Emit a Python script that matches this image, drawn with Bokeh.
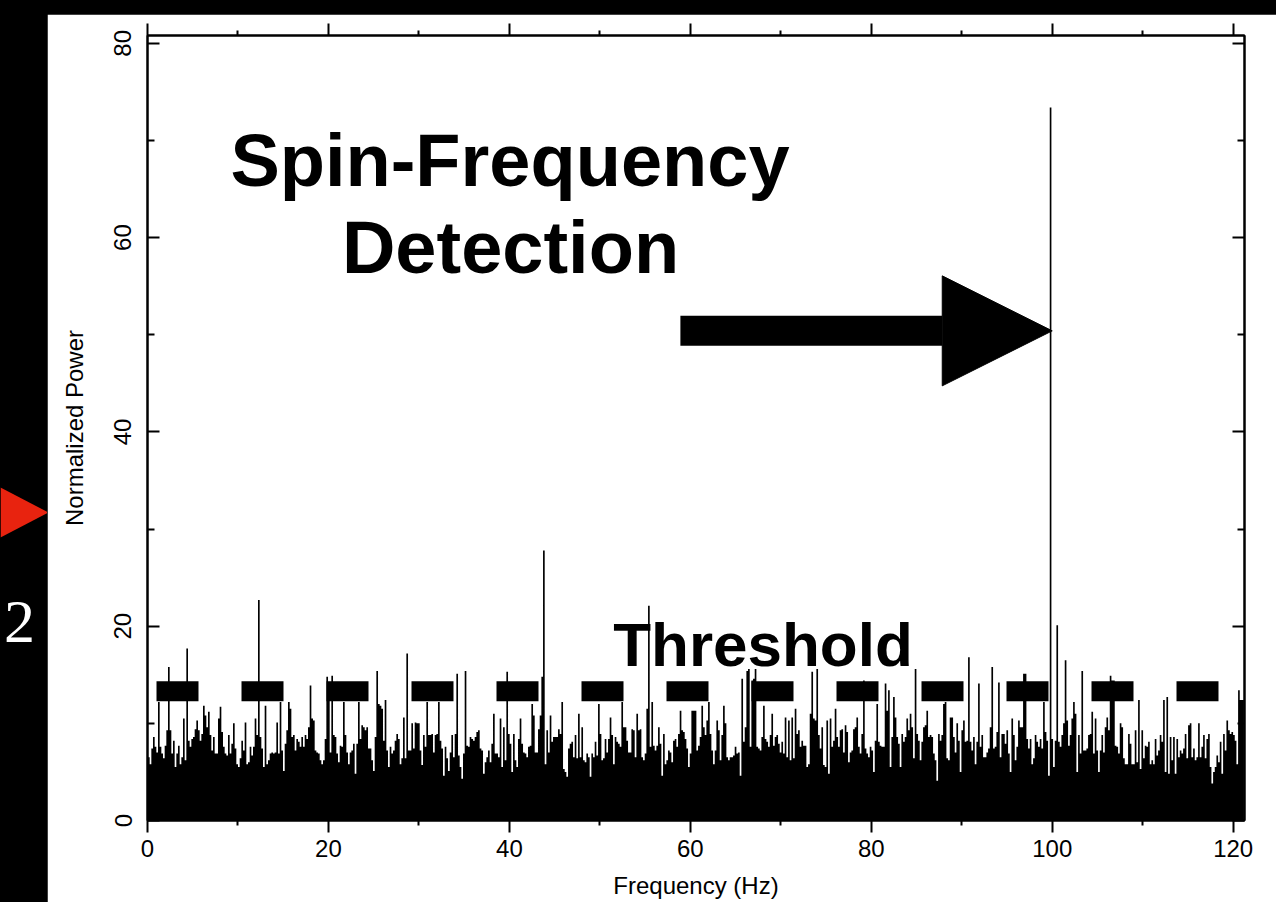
import numpy as np
from bokeh.plotting import figure
from bokeh.layouts import row
from bokeh.models import Range1d, FixedTicker, LinearAxis, Label, Arrow, NormalHead
from bokeh.core.properties import value
from bokeh.embed import file_html
from bokeh.resources import INLINE

# ---------------- data ----------------
# power spectrum, bins of ~0.184 Hz starting just left of 0 Hz
POWER_0_24 = [
    6.9, 8.1, 6.5, 5.8, 7.4, 8.6, 7.6, 7.0, 12.2, 7.6,
    6.9, 6.4, 7.7, 9.3, 15.8, 9.3, 6.9, 8.2, 5.5, 6.9,
    7.7, 5.8, 6.5, 10.5, 6.2, 17.7, 8.2, 7.6, 8.4, 8.6,
    9.4, 10.3, 9.3, 8.2, 8.9, 11.8, 10.8, 9.6, 11.2, 8.8,
    7.2, 8.6, 6.9, 6.9, 10.5, 11.7, 9.1, 7.6, 6.9, 6.7,
    8.8, 6.9, 7.9, 10.0, 7.4, 5.8, 5.5, 6.4, 8.2, 7.2,
    10.1, 5.8, 6.0, 7.6, 6.7, 7.6, 10.5, 8.8, 22.7, 8.6,
    7.4, 5.5, 11.8, 5.8, 6.2, 6.9, 7.0, 6.9, 7.0, 10.1,
    6.9, 12.2, 7.2, 5.1, 7.9, 9.3, 12.2, 11.5, 8.6, 8.8,
    7.2, 8.4, 8.1, 7.6, 8.6, 7.6, 8.8, 8.4, 9.6, 13.9,
    10.5, 10.3, 7.2, 7.0, 6.9, 6.2, 5.8, 6.2, 8.4, 14.8,
    12.4, 7.0, 14.9, 8.8, 8.6, 6.9, 6.0, 7.7, 7.6, 12.2,
    8.8, 7.0, 5.8, 7.0, 7.2, 7.9, 4.8, 7.9, 12.2, 8.4,
    9.8, 9.6]
POWER_24_48 = [
    9.3, 9.6, 7.4, 7.4, 6.2, 5.1, 8.6, 15.4, 12.0, 11.8,
    11.5, 8.2, 12.4, 7.2, 5.5, 7.6, 6.9, 7.2, 8.2, 8.9,
    8.4, 5.8, 6.4, 10.6, 6.4, 17.2, 7.2, 7.2, 10.0, 7.4,
    10.1, 10.0, 10.0, 7.2, 5.7, 8.8, 7.6, 12.2, 8.8, 8.8,
    8.9, 7.0, 8.8, 8.9, 12.2, 8.2, 7.4, 4.6, 7.6, 6.4,
    5.1, 7.0, 8.8, 6.5, 8.9, 15.1, 6.7, 5.5, 4.3, 6.9,
    15.4, 7.7, 7.6, 8.6, 8.4, 8.2, 8.6, 9.1, 9.3, 7.4,
    7.2, 4.8, 6.0, 6.5, 7.2, 6.0, 7.9, 11.0, 6.9, 6.9,
    6.5, 10.5, 5.5, 9.6, 6.2, 15.3, 8.9, 7.9, 5.0, 8.9,
    6.2, 5.5, 8.4, 10.5, 7.9, 7.0, 6.9, 6.5, 7.6, 7.7,
    12.0, 10.8, 7.0, 7.0, 9.4, 10.8, 14.8, 27.8, 5.8, 9.3,
    7.0, 10.8, 8.1, 8.6, 8.6, 8.6, 9.4, 8.9, 12.2, 5.3,
    5.0, 4.5, 7.4, 7.9, 8.1, 6.5, 8.8, 6.4, 11.0, 6.5,
    9.6, 6.2]
POWER_48_73 = [
    6.0, 6.9, 6.5, 4.5, 6.9, 6.5, 8.1, 6.7, 12.0, 8.9,
    6.2, 6.4, 8.4, 7.0, 8.4, 10.6, 8.8, 5.8, 8.6, 8.1,
    7.9, 7.6, 12.2, 9.6, 9.6, 8.2, 7.0, 7.0, 9.4, 9.3,
    6.5, 11.0, 9.3, 9.4, 6.5, 6.2, 6.9, 11.5, 22.1, 7.6,
    12.2, 7.7, 7.2, 7.7, 9.6, 7.9, 4.6, 8.9, 5.8, 6.2,
    7.2, 7.0, 6.0, 8.2, 8.4, 7.6, 8.9, 11.3, 9.3, 9.1,
    8.4, 7.4, 5.5, 6.9, 11.3, 11.3, 11.3, 7.2, 7.7, 8.6,
    11.8, 9.6, 8.8, 10.3, 12.2, 8.9, 7.2, 5.8, 7.2, 10.3,
    9.3, 6.2, 8.8, 11.8, 10.0, 6.5, 6.2, 6.5, 6.5, 6.7,
    7.6, 6.9, 7.0, 4.6, 14.6, 8.1, 9.6, 15.4, 15.6, 7.6,
    14.4, 14.6, 15.6, 7.6, 7.4, 7.2, 8.6, 11.8, 8.4, 8.1,
    7.6, 8.8, 11.0, 7.7, 8.6, 8.8, 7.9, 7.0, 8.1, 6.9,
    10.6, 6.5, 10.3, 6.2, 10.6, 6.4, 11.5, 8.9, 9.3, 7.6,
    8.2, 7.7]
POWER_73_97 = [
    7.7, 5.5, 5.8, 11.0, 15.3, 10.5, 10.3, 15.6, 8.8, 7.4,
    9.6, 5.7, 5.5, 10.3, 4.8, 10.5, 7.6, 8.2, 11.5, 8.6,
    7.6, 9.3, 9.4, 7.0, 9.8, 9.1, 6.0, 7.0, 7.2, 9.4,
    9.6, 10.6, 7.6, 6.9, 8.9, 14.4, 7.4, 6.9, 6.5, 7.6,
    7.2, 5.0, 8.2, 12.0, 8.1, 7.7, 7.6, 7.6, 14.1, 11.3,
    13.4, 5.5, 8.6, 12.7, 10.6, 8.6, 7.9, 5.5, 8.9, 8.1,
    8.6, 10.5, 9.3, 11.0, 9.6, 6.4, 15.6, 8.9, 8.2, 6.2,
    8.1, 9.6, 9.8, 11.3, 8.6, 8.8, 8.6, 6.9, 6.2, 4.1,
    8.9, 8.2, 8.8, 12.0, 12.2, 6.4, 6.2, 10.6, 10.6, 8.6,
    7.0, 10.0, 8.2, 5.0, 9.3, 10.3, 8.1, 8.2, 16.8, 8.1,
    7.2, 8.6, 5.8, 8.1, 14.1, 7.6, 8.8, 6.5, 6.5, 7.0,
    7.4, 9.6, 15.8, 7.4, 7.6, 9.1, 14.2, 6.5, 8.9, 8.9,
    7.9, 9.3, 6.9, 5.0, 10.5, 8.8, 6.2, 7.6, 10.3, 9.6,
    9.6, 15.1]
POWER_97_121 = [
    15.1, 8.4, 7.4, 8.4, 5.8, 6.4, 8.8, 8.1, 7.6, 8.4,
    7.4, 12.2, 9.1, 8.2, 4.6, 73.4, 8.4, 5.5, 8.2, 20.1,
    8.1, 7.6, 8.8, 10.0, 16.5, 10.3, 7.7, 8.8, 10.5, 12.2,
    11.0, 5.0, 8.8, 6.9, 15.4, 7.2, 7.2, 7.4, 8.8, 8.9,
    11.2, 6.9, 10.5, 7.2, 5.0, 7.2, 8.8, 7.0, 9.6, 10.6,
    9.3, 14.9, 14.4, 14.4, 7.7, 7.6, 6.9, 10.0, 9.6, 6.4,
    5.8, 5.8, 8.9, 7.9, 5.8, 5.8, 9.3, 6.0, 12.4, 5.3,
    9.3, 6.4, 7.7, 7.6, 8.1, 5.8, 6.2, 5.8, 8.4, 6.7,
    7.2, 8.8, 8.1, 12.4, 5.0, 12.7, 4.8, 8.6, 6.2, 8.6,
    4.8, 8.4, 6.5, 7.2, 6.9, 7.4, 8.9, 6.4, 9.8, 10.0,
    6.5, 7.4, 6.2, 6.5, 10.0, 6.5, 7.6, 8.8, 6.4, 8.4,
    8.9, 5.5, 3.8, 5.0, 5.5, 6.7, 6.0, 8.1, 4.8, 8.9,
    7.2, 10.3, 9.3, 8.9, 9.1, 8.8, 8.2, 5.8, 13.4, 12.4,
    12.4, 12.4]

FREQ_START = -0.221      # Hz, centre of first bin
FREQ_STEP = 0.18423      # Hz, bin width

X_TICKS = [0, 20, 40, 60, 80, 100, 120]
X_MINOR = [10, 30, 50, 70, 90, 110]
Y_TICKS = [0, 20, 40, 60, 80]
Y_MINOR = [10, 30, 50, 70]

THRESHOLD = 13.3          # threshold power level
DETECTION_FREQ = 100.0    # Hz
ARROW_LEVEL = 50.4
ARROW_FROM = 58.9

power = np.array(POWER_0_24 + POWER_24_48 + POWER_48_73 + POWER_73_97 + POWER_97_121)
freq = FREQ_START + FREQ_STEP * np.arange(len(power))

# ---------------- layout ----------------
W, H = 1276, 902
LEFT_W, TOP_H = 47, 14
PW, PH = W - LEFT_W, H - TOP_H
FL, FR, FT, FB = 147 - LEFT_W, 1244 - LEFT_W, 35 - TOP_H, 820 - TOP_H
XLO, XHI = 0.0, 121.25
YLO, YHI = 0.0, 80.8


def X(px):   # main-figure pixel -> data
    return XLO + (px - FL) * (XHI - XLO) / (FR - FL)


def Y(py):
    return YLO + (FB - py) * (YHI - YLO) / (FB - FT)


p = figure(width=PW, height=PH, output_backend="svg", toolbar_location=None, title=None,
           x_range=Range1d(XLO, XHI), y_range=Range1d(YLO, YHI),
           min_border_left=FL, min_border_right=PW - FR, min_border_top=FT,
           min_border_bottom=PH - FB)
p.margin = (TOP_H, 0, 0, 0)
p.grid.visible = False
p.background_fill_color = "white"
p.border_fill_color = "white"
p.outline_line_color = "black"
p.outline_line_width = 2

TICK_FONT = "Liberation Sans"


def style_axis(ax, horizontal, labels):
    ax.axis_line_color = "black"
    ax.axis_line_width = 2
    ax.major_tick_line_color = "black"
    ax.minor_tick_line_color = "black"
    ax.major_tick_line_width = 2
    ax.minor_tick_line_width = 2
    if horizontal:
        ax.ticker = FixedTicker(ticks=X_TICKS, minor_ticks=X_MINOR)
        ax.major_tick_in, ax.major_tick_out = 0, 12
        ax.minor_tick_in, ax.minor_tick_out = 0, 5
    else:
        ax.ticker = FixedTicker(ticks=Y_TICKS, minor_ticks=Y_MINOR)
        ax.major_tick_in, ax.major_tick_out = 12, 0
        ax.minor_tick_in, ax.minor_tick_out = 7, 0
    ax.major_label_text_font = TICK_FONT
    ax.major_label_text_font_size = "24px"
    ax.major_label_text_color = "black" if labels else None
    ax.axis_label_text_font = TICK_FONT
    ax.axis_label_text_font_size = "24px"
    ax.axis_label_text_font_style = "normal"
    ax.axis_label_text_color = "black"


style_axis(p.xaxis[0], True, True)
style_axis(p.yaxis[0], False, True)
p.xaxis[0].axis_label = "Frequency (Hz)"
p.xaxis[0].major_label_standoff = 7
p.xaxis[0].axis_label_standoff = 12
p.yaxis[0].axis_label = "Normalized Power"
p.yaxis[0].major_label_orientation = "vertical"
p.yaxis[0].major_label_standoff = 16
p.yaxis[0].axis_label_standoff = 24

top_ax = LinearAxis()
style_axis(top_ax, True, False)
p.add_layout(top_ax, "above")
right_ax = LinearAxis()
style_axis(right_ax, False, False)
p.add_layout(right_ax, "right")

# spectrum
p.varea_step(x=freq, y1=0, y2=power, step_mode="center", fill_color="black")

# threshold dashed line
p.add_layout(Arrow(start=None, end=None, x_start=X(156 - LEFT_W), y_start=THRESHOLD,
                   x_end=X(PW), y_end=THRESHOLD, line_color="black", line_width=20,
                   line_dash="42 43"))

# detection arrow
p.add_layout(Arrow(end=NormalHead(size=110, fill_color="black", line_color="black",
                                  line_width=1),
                   x_start=ARROW_FROM, y_start=ARROW_LEVEL,
                   x_end=DETECTION_FREQ, y_end=ARROW_LEVEL,
                   line_color="black", line_width=30))

# annotation texts (x centre, baseline in window pixels)
for txt, xc, base, size in [("Spin-Frequency", 509.5, 160, "74px"),
                            ("Detection", 510, 247, "74px"),
                            ("Threshold", 762.5, 644, "62px")]:
    p.add_layout(Label(x=X(xc - LEFT_W), y=Y(base - TOP_H), text=txt, text_color="black",
                       text_font="Liberation Sans", text_font_style="bold",
                       text_font_size=size, text_align="center",
                       text_baseline="alphabetic"))

# left slide strip: red marker and slide number (coordinates in strip pixels)
side = figure(width=LEFT_W, height=H, frame_width=LEFT_W, frame_height=H,
              output_backend="svg", toolbar_location=None,
              title=None, x_range=Range1d(0, LEFT_W), y_range=Range1d(H, 0),
              min_border_left=0, min_border_right=0, min_border_top=0,
              min_border_bottom=0, x_axis_location=None, y_axis_location=None)
side.grid.visible = False
side.outline_line_color = None
side.background_fill_color = "black"
side.border_fill_color = "black"
side.patch(x=[0, 48, 0], y=[466, 491, 516], fill_color="#e8230f", line_color=None)
side.text(x=[19], y=[600], text=["2"], text_color="white",
          text_font=value("Liberation Serif"), text_font_size="62px",
          text_align="center", text_baseline="alphabetic")

layout = row(side, p, spacing=0)
html = file_html(layout, INLINE)
html = html.replace("<head>", "<head><style>html,body{margin:0;padding:0;background:#000;}</style>", 1)
open("out.html", "w").write(html)
